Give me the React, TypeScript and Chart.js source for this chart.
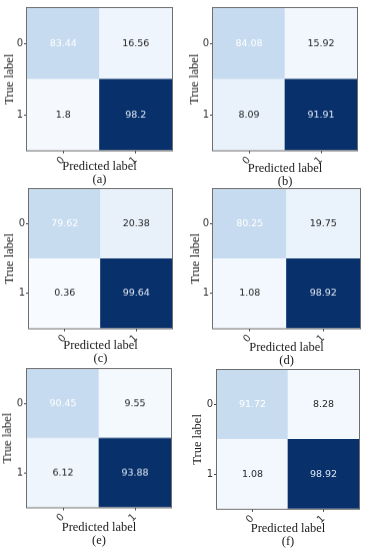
import React, { useEffect, useRef } from "react";
import { Chart, registerables } from "chart.js";

Chart.register(...registerables);

// ---- data ----
const classLabels = ["0", "1"];
const panelLabels = ["(a)", "(b)", "(c)", "(d)", "(e)", "(f)"];
const valuesA = [[83.44, 16.56], [1.8, 98.2]];
const valuesB = [[84.08, 15.92], [8.09, 91.91]];
const valuesC = [[79.62, 20.38], [0.36, 99.64]];
const valuesD = [[80.25, 19.75], [1.08, 98.92]];
const valuesE = [[90.45, 9.55], [6.12, 93.88]];
const valuesF = [[91.72, 8.28], [1.08, 98.92]];
const allValues = [valuesA, valuesB, valuesC, valuesD, valuesE, valuesF];
const yTitle = "True label";
const xTitle = "Predicted label";

// ---- styles ----
const cellColors = [
  [["#c6dbef", "#eef5fc"], ["#f5f9fe", "#08306b"]],
  [["#c6dbef", "#f2f7fd"], ["#e9f2fb", "#08306b"]],
  [["#c8dcf0", "#e8f1fa"], ["#f7fbff", "#08306b"]],
  [["#c6dbef", "#eaf2fb"], ["#f3f8fe", "#08306b"]],
  [["#c6dbef", "#f4f9fe"], ["#eef5fc", "#08306b"]],
  [["#c8dcf0", "#f2f8fd"], ["#f3f8fe", "#08306b"]],
];
const textColors = [["#ffffff", "#262626"], ["#262626", "#dfe7f3"]];

// geometry of each panel's plot area in page coordinates
const geom = [
  { colX: 0, L: 27, T: 8, R: 172, B: 150, d2: 29, yt: 10 },
  { colX: 185, L: 213, T: 8, R: 357, B: 150, d2: 31, yt: 10 },
  { colX: 0, L: 29, T: 189, R: 172, B: 328, d2: 30, yt: 10 },
  { colX: 185, L: 213, T: 189, R: 360, B: 328, d2: 32, yt: 10.7 },
  { colX: 0, L: 27, T: 369, R: 171, B: 507, d2: 33, yt: 8 },
  { colX: 185, L: 217, T: 370, R: 359, B: 509, d2: 32.7, yt: 12.7 },
];
const CANVAS_W = 185;
const PAD_TOP = 8;
const TITLE_LH = 13;

function Panel({ idx }: { idx: number }) {
  const ref = useRef<HTMLCanvasElement | null>(null);
  const g = geom[idx];
  const xAxisH = g.d2 + TITLE_LH / 2;
  const canvasH = PAD_TOP + (g.B - g.T) + xAxisH;
  const canvasTop = g.T - PAD_TOP;

  useEffect(() => {
    if (!ref.current) return;
    const vals = allValues[idx];
    const cols = cellColors[idx];
    const cellText = {
      id: "cellText",
      afterDatasetsDraw(chart: any) {
        const ctx = chart.ctx;
        ctx.save();
        ctx.font = "9.5px 'DejaVu Sans'";
        ctx.textAlign = "center";
        ctx.textBaseline = "middle";
        chart.data.datasets.forEach((ds: any, di: number) => {
          const row = ds.row;
          const meta = chart.getDatasetMeta(di);
          meta.data.forEach((el: any, ci: number) => {
            const cy = (el.y + el.base) / 2;
            ctx.fillStyle = textColors[row][ci];
            ctx.fillText(String(vals[row][ci]), el.x, cy);
          });
        });
        ctx.restore();
      },
    };
    const frame = {
      id: "frame",
      afterDraw(chart: any) {
        const a = chart.chartArea;
        const ctx = chart.ctx;
        ctx.save();
        ctx.strokeStyle = "#6e6e6e";
        ctx.lineWidth = 1;
        ctx.strokeRect(Math.round(a.left) - 0.5, Math.round(a.top) - 0.5, a.right - a.left + 1, a.bottom - a.top + 1);
        ctx.restore();
      },
    };
    const chart = new Chart(ref.current, {
      type: "bar",
      data: {
        labels: classLabels,
        datasets: [1, 0].map((row) => ({
          label: classLabels[row],
          row,
          data: classLabels.map(() => 1),
          backgroundColor: cols[row],
          borderWidth: 0,
          barPercentage: 1,
          categoryPercentage: 1,
        })) as any,
      },
      options: {
        animation: false,
        responsive: false,
        events: [],
        layout: {
          padding: { top: PAD_TOP, left: 0, bottom: 0, right: CANVAS_W - (g.R - g.colX) },
        },
        plugins: { legend: { display: false }, tooltip: { enabled: false } },
        scales: {
          x: {
            type: "category",
            stacked: true,
            offset: true,
            grid: { display: true, offset: false, drawOnChartArea: false, drawTicks: true, tickLength: 3, color: "#444" },
            border: { display: false },
            ticks: { minRotation: 45, maxRotation: 45, padding: 1, color: "#333", font: { family: "DejaVu Sans", size: 10 } },
            title: {
              display: true,
              text: [xTitle, panelLabels[idx]],
              color: "#1a1a1a",
              padding: { top: 0, bottom: 0 },
              font: { family: "Liberation Serif", size: 12.5, lineHeight: TITLE_LH / 12.5 },
            },
            afterFit: (s: any) => {
              s.height = xAxisH;
            },
          },
          y: {
            type: "linear",
            stacked: true,
            min: 0,
            max: 2,
            afterBuildTicks: (s: any) => {
              s.ticks = [{ value: 0.5 }, { value: 1.5 }];
            },
            grid: { display: true, drawOnChartArea: false, drawTicks: true, tickLength: 3, color: "#444" },
            border: { display: false },
            ticks: {
              padding: 1,
              color: "#333",
              font: { family: "DejaVu Sans", size: 10 },
              callback: (v: any) => classLabels[Math.round(1.5 - Number(v))],
            },
            title: {
              display: true,
              text: yTitle,
              color: "#1a1a1a",
              padding: { top: g.yt - TITLE_LH / 2, bottom: 0 },
              font: { family: "Liberation Serif", size: 12.5, lineHeight: TITLE_LH / 12.5 },
            },
            afterFit: (s: any) => {
              s.width = g.L - g.colX;
            },
          },
        },
      } as any,
      plugins: [cellText, frame],
    });
    return () => chart.destroy();
  }, [idx]);

  return (
    <canvas
      ref={ref}
      width={CANVAS_W}
      height={canvasH}
      style={{ position: "absolute", left: g.colX, top: canvasTop, width: CANVAS_W, height: canvasH }}
    />
  );
}

export default function App() {
  return (
    <div style={{ position: "fixed", left: 0, top: 0, width: 370, height: 550, background: "#ffffff" }}>
      {allValues.map((_, i) => (
        <Panel key={i} idx={i} />
      ))}
    </div>
  );
}
